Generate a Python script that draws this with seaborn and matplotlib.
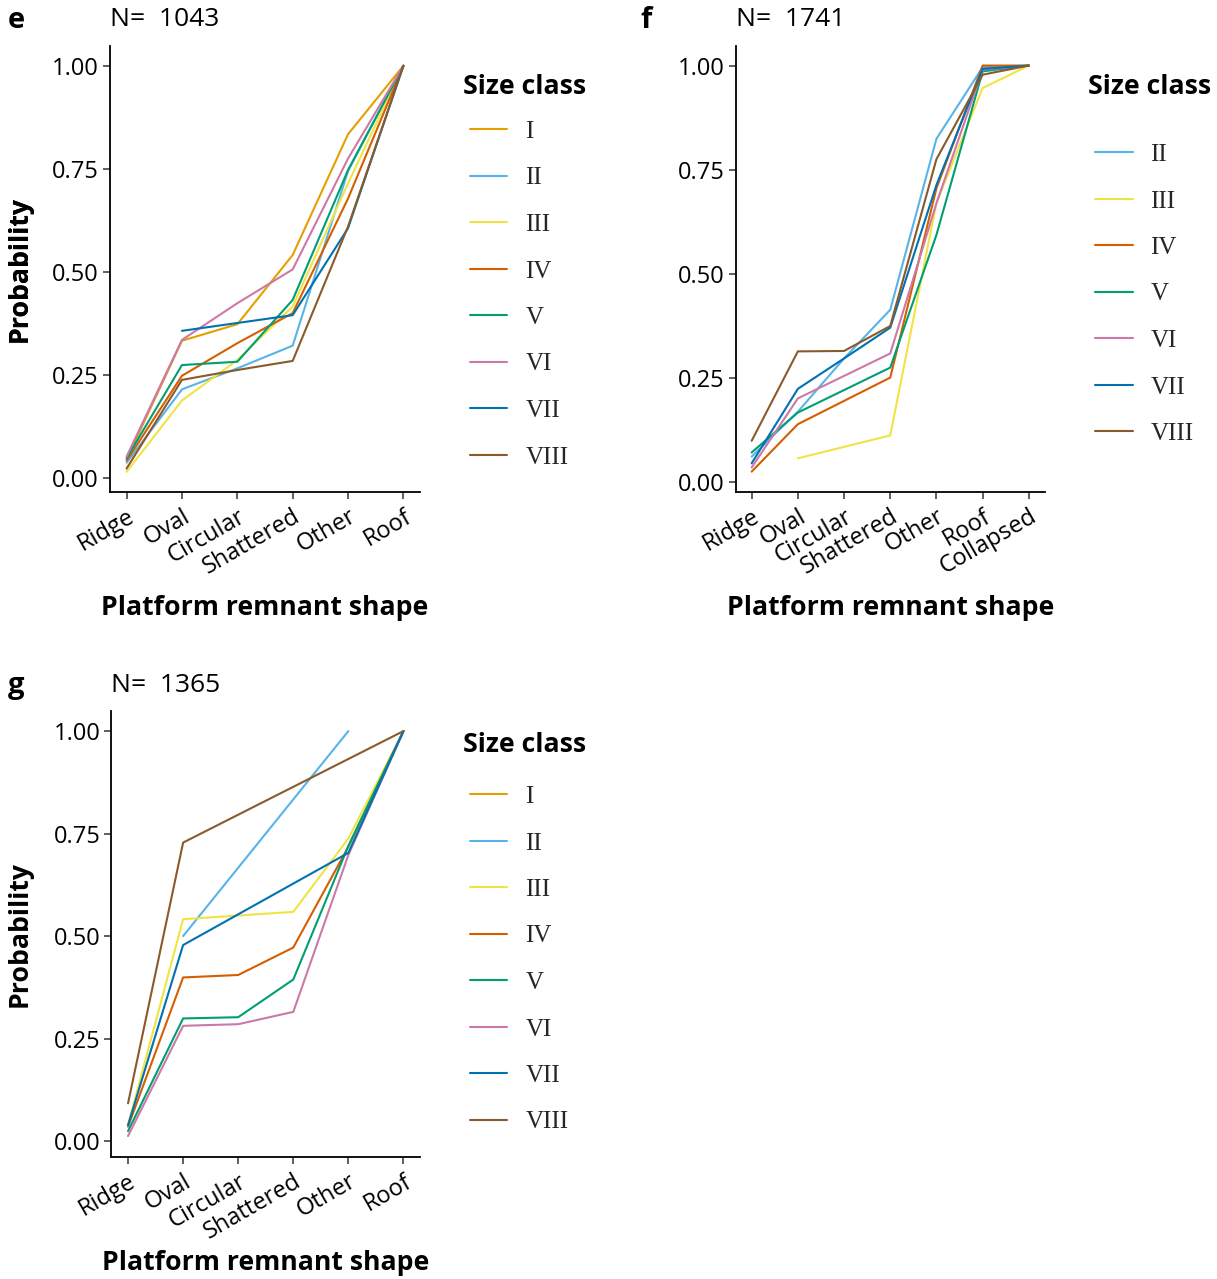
import numpy as np
import pandas as pd
import matplotlib
matplotlib.use("Agg")
import matplotlib.pyplot as plt
import seaborn as sns

sns.set_theme(style="ticks")
plt.rcParams['font.family'] = ['Open Sans', 'Noto Sans', 'DejaVu Sans']

nan = np.nan

# ---------------- data ----------------
size_classes = ["I", "II", "III", "IV", "V", "VI", "VII", "VIII"]
palette_list = ["#E69F00", "#56B4E9", "#F0E442", "#D55E00",
                "#009E73", "#CC79A7", "#0072B2", "#8B5A2B"]

shapes_e = ["Ridge", "Oval", "Circular", "Shattered", "Other", "Roof"]
shapes_f = ["Ridge", "Oval", "Circular", "Shattered", "Other", "Roof", "Collapsed"]
shapes_g = ["Ridge", "Oval", "Circular", "Shattered", "Other", "Roof"]

# panel e  (N = 1043)
e_I    = [0.045, 0.333, 0.373, 0.541, 0.834, 1.0]
e_II   = [0.037, 0.215, 0.266, 0.321, 0.745, 1.0]
e_III  = [0.015, 0.188, 0.286, 0.416, 0.715, 1.0]
e_IV   = [0.042, 0.248, 0.327, 0.400, 0.678, 1.0]
e_V    = [0.048, 0.274, 0.282, 0.432, 0.747, 1.0]
e_VI   = [0.052, 0.335, 0.424, 0.506, 0.775, 1.0]
e_VII  = [nan,   0.357, nan,   0.395, 0.606, 1.0]
e_VIII = [0.023, 0.238, 0.262, 0.284, 0.610, 1.0]

# panel f  (N = 1741)
f_II   = [0.060, 0.168, 0.296, 0.413, 0.824, 0.996, 1.0]
f_III  = [nan,   0.056, nan,   0.111, 0.670, 0.946, 1.0]
f_IV   = [0.024, 0.138, 0.194, 0.250, 0.705, 1.000, 1.0]
f_V    = [0.070, 0.166, 0.220, 0.274, 0.593, 0.986, 1.0]
f_VI   = [0.034, 0.200, 0.254, 0.308, 0.669, 0.990, 1.0]
f_VII  = [0.044, 0.223, 0.296, 0.370, 0.713, 0.992, 1.0]
f_VIII = [0.098, 0.313, 0.314, 0.374, 0.775, 0.978, 1.0]

# panel g  (N = 1365)
g_I    = [nan, nan, nan, nan, nan, nan]
g_II   = [nan,   0.500, nan,   nan,   1.000, nan]
g_III  = [0.039, 0.541, 0.550, 0.559, 0.738, 1.0]
g_IV   = [0.035, 0.399, 0.405, 0.472, 0.718, 1.0]
g_V    = [0.024, 0.299, 0.302, 0.394, 0.720, 1.0]
g_VI   = [0.012, 0.281, 0.285, 0.315, 0.698, 1.0]
g_VII  = [0.039, 0.478, nan,   nan,   0.703, 1.0]
g_VIII = [0.092, 0.728, nan,   nan,   nan,   1.0]

panels = [
    dict(letter="e", n="1043", shapes=shapes_e,
         series={"I": e_I, "II": e_II, "III": e_III, "IV": e_IV, "V": e_V,
                 "VI": e_VI, "VII": e_VII, "VIII": e_VIII},
         classes=size_classes,
         rect=[110/1217, 1-492/1279, 310/1217, 446/1279],
         ylim=(-0.034, 1.048), leg_x=463, leg_title_y=87, leg_first_y=136,
         xlab_y=608, top_y=20, letter_x=8),
    dict(letter="f", n="1741", shapes=shapes_f,
         series={"II": f_II, "III": f_III, "IV": f_IV, "V": f_V,
                 "VI": f_VI, "VII": f_VII, "VIII": f_VIII},
         classes=size_classes[1:],
         rect=[735.5/1217, 1-492/1279, 309.5/1217, 446/1279],
         ylim=(-0.025, 1.047), leg_x=1088, leg_title_y=87, leg_first_y=159,
         xlab_y=608, top_y=20, letter_x=640),
    dict(letter="g", n="1365", shapes=shapes_g,
         series={"I": g_I, "II": g_II, "III": g_III, "IV": g_IV, "V": g_V,
                 "VI": g_VI, "VII": g_VII, "VIII": g_VIII},
         classes=size_classes,
         rect=[111.5/1217, 1-1157/1279, 308.5/1217, 446/1279],
         ylim=(-0.039, 1.049), leg_x=463, leg_title_y=745, leg_first_y=801,
         xlab_y=1263, top_y=686, letter_x=8),
]

W, H = 1217, 1279
fig = plt.figure(figsize=(W/100, H/100), dpi=100)
pal = dict(zip(size_classes, palette_list))

TICK_FS = 17
LAB_FS = 19.2
for p in panels:
    ax = fig.add_axes(p["rect"])
    rows = []
    for cls, vals in p["series"].items():
        for i, (s, v) in enumerate(zip(p["shapes"], vals)):
            rows.append({"shape": s, "pos": i, "cls": cls, "prob": v})
    df = pd.DataFrame(rows).dropna()
    sns.lineplot(data=df, x="pos", y="prob", hue="cls", hue_order=p["classes"],
                 palette=pal, estimator=None, sort=True, linewidth=1.5,
                 ax=ax, legend=True)
    n = len(p["shapes"])
    pad = 0.05 * n
    ax.set_xlim(-pad, (n - 1) + pad)
    ax.set_ylim(*p["ylim"])
    ax.set_xticks(range(n))
    ax.set_xticklabels(p["shapes"], rotation=30, ha="right", rotation_mode="anchor")
    ax.set_yticks([0, 0.25, 0.5, 0.75, 1.0])
    ax.set_yticklabels(["0.00", "0.25", "0.50", "0.75", "1.00"])
    ax.tick_params(axis="both", labelsize=TICK_FS, length=5, width=1.1, color="#333333",
                   labelcolor="black")
    ax.tick_params(axis="x", pad=4)
    ax.tick_params(axis="y", pad=3)
    for s in ["top", "right"]:
        ax.spines[s].set_visible(False)
    for s in ["left", "bottom"]:
        ax.spines[s].set_linewidth(1.3)
        ax.spines[s].set_color("black")
    ax.set_xlabel("Platform remnant shape", fontsize=LAB_FS, fontweight="bold", color="black")
    ax.set_ylabel("Probability", fontsize=LAB_FS, fontweight="bold", color="black")
    axh = p["rect"][3] * H
    axw = p["rect"][2] * W
    axb = (1 - p["rect"][1]) * H
    ax.xaxis.set_label_coords(0.5, (axb - p["xlab_y"]) / axh)
    ax.xaxis.label.set_va("center")
    ax.yaxis.set_label_coords((20 - p["rect"][0] * W) / axw, 0.5)
    ax.yaxis.label.set_va("center")

    # legend
    leg = ax.get_legend()
    handles = leg.legend_handles
    labels = [t.get_text() for t in leg.get_texts()]
    leg.remove()
    for h in handles:
        h.set_linewidth(1.5)
    fs = 18
    em = fs * 100 / 72
    fig.legend(handles, labels, loc="upper left",
               bbox_to_anchor=((p["leg_x"] + 7) / W, 1 - (p["leg_first_y"] - em*0.62) / H),
               frameon=False, handlelength=1.5, handletextpad=0.72,
               labelspacing=0.96, borderpad=0, borderaxespad=0,
               prop={"family": ["Liberation Serif", "DejaVu Serif"], "size": fs})
    fig.text(p["leg_x"] / W, 1 - p["leg_title_y"] / H, "Size class",
             fontsize=LAB_FS, fontweight="bold", ha="left", va="center", color="black")

    # panel letter and N
    fig.text(p["letter_x"] / W, 1 - p["top_y"] / H, p["letter"], fontsize=21,
             fontweight="bold", ha="left", va="center", color="black")
    fig.text((p["rect"][0] * W) / W, 1 - p["top_y"] / H, "N=  " + p["n"], fontsize=19,
             ha="left", va="center", color="black")

fig.savefig("out.png", dpi=100, facecolor="white")
